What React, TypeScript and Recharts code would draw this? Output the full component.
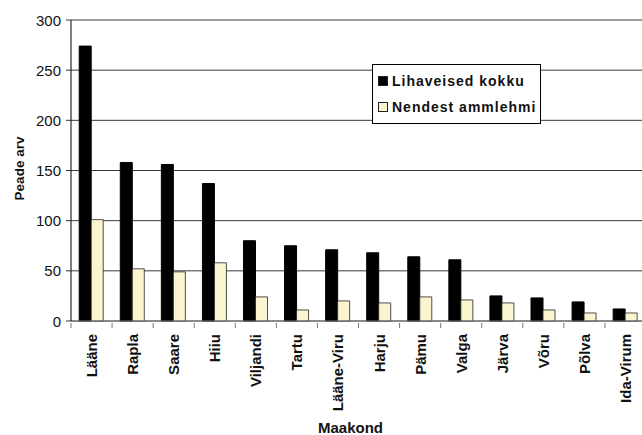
import { Bar, BarChart, CartesianGrid, Legend, XAxis, YAxis } from "recharts";

if (typeof document !== "undefined") document.body.style.margin = "0";

const regions = [
  "Lääne", "Rapla", "Saare", "Hiiu", "Viljandi", "Tartu", "Lääne-Viru",
  "Harju", "Pämu", "Valga", "Järva", "Võru", "Põlva", "Ida-Virum",
];
const totalBeef = [274, 158, 156, 137, 80, 75, 71, 68, 64, 61, 25, 23, 19, 12];
const sucklerCows = [101, 52, 49, 58, 24, 11, 20, 18, 24, 21, 18, 11, 8, 8];
const yTicks = [0, 50, 100, 150, 200, 250, 300];

const seriesNames = { total: "Lihaveised kokku", cows: "Nendest ammlehmi" };
const CREAM = "#fbf5cf";
const FONT = "'Liberation Sans', Arial, sans-serif";

const data = regions.map((name, i) => ({
  name,
  total: totalBeef[i],
  cows: sucklerCows[i],
}));

const CHART_W = 650;
const PLOT_LEFT = 71;
const MARGIN_RIGHT = 4;
const BAND = (CHART_W - PLOT_LEFT - MARGIN_RIGHT) / regions.length;

function YTick({ x, y, payload }: any) {
  return (
    <text
      x={x - 3}
      y={y}
      textAnchor="end"
      dominantBaseline="central"
      fontFamily={FONT}
      fontSize={15}
      fill="#111"
    >
      {payload.value}
    </text>
  );
}

// rotated category name plus a separator tick on the left edge of each band
function XTick({ x, y, payload }: any) {
  const top = y - 6;
  return (
    <g>
      <line x1={x - BAND / 2} x2={x - BAND / 2} y1={top} y2={top + 5} stroke="#777" />
      <text
        transform={`translate(${x},${top + 11}) rotate(-90)`}
        textAnchor="end"
        dominantBaseline="central"
        fontFamily={FONT}
        fontSize={15}
        fontWeight="bold"
        fill="#111"
      >
        {payload.value}
      </text>
    </g>
  );
}

function YLabel({ viewBox }: any) {
  const cx = viewBox.x + 19;
  const cy = viewBox.y + viewBox.height / 2 - 2;
  return (
    <text
      transform={`translate(${cx},${cy}) rotate(-90)`}
      textAnchor="middle"
      dominantBaseline="central"
      fontFamily={FONT}
      fontSize={13.5}
      fontWeight="bold"
      fill="#111"
    >
      Peade arv
    </text>
  );
}

function XLabel({ viewBox }: any) {
  return (
    <text
      x={viewBox.x + viewBox.width / 2 - 8}
      y={viewBox.y + viewBox.height - 2}
      textAnchor="middle"
      fontFamily={FONT}
      fontSize={15}
      fontWeight="bold"
      fill="#111"
    >
      Maakond
    </text>
  );
}

function LegendBox() {
  const rows = [
    { label: seriesNames.total, fill: "#000" },
    { label: seriesNames.cows, fill: CREAM },
  ];
  return (
    <div
      style={{
        border: "1px solid #000",
        background: "#fff",
        padding: "3px 4px 3px 5px",
        fontFamily: FONT,
        fontSize: 14,
        fontWeight: "bold",
        letterSpacing: 1,
        color: "#111",
      }}
    >
      {rows.map((r) => (
        <div key={r.label} style={{ display: "flex", alignItems: "center", height: 26 }}>
          <span
            style={{
              width: 8,
              height: 8,
              background: r.fill,
              border: "1px solid #222",
              marginRight: 4,
              display: "inline-block",
            }}
          />
          <span style={{ whiteSpace: "nowrap" }}>{r.label}</span>
        </div>
      ))}
    </div>
  );
}

export default function App() {
  return (
    <div style={{ width: 642, height: 435, overflow: "hidden", background: "#fff", position: "relative" }}>
      <BarChart
        width={CHART_W}
        height={435}
        data={data}
        margin={{ top: 20, right: MARGIN_RIGHT, bottom: 0, left: 0 }}
        barCategoryGap="20%"
        barGap={0}
      >
        <CartesianGrid vertical={false} stroke="#3a3a3a" />
        <XAxis
          dataKey="name"
          height={114}
          interval={0}
          axisLine={{ stroke: "#777" }}
          tickLine={false}
          tick={<XTick />}
          label={<XLabel />}
        />
        <YAxis
          width={PLOT_LEFT}
          domain={[0, 300]}
          ticks={yTicks}
          axisLine={{ stroke: "#000" }}
          tickLine={{ stroke: "#333" }}
          tickSize={5}
          tick={<YTick />}
          label={<YLabel />}
        />
        <Legend
          layout="vertical"
          align="center"
          verticalAlign="middle"
          content={<LegendBox />}
          wrapperStyle={{ left: 372, top: 64, width: "auto" }}
        />
        <Bar dataKey="total" name={seriesNames.total} fill="#000" stroke="#000" isAnimationActive={false} />
        <Bar dataKey="cows" name={seriesNames.cows} fill={CREAM} stroke="#222" strokeWidth={0.8} isAnimationActive={false} />
      </BarChart>
    </div>
  );
}
